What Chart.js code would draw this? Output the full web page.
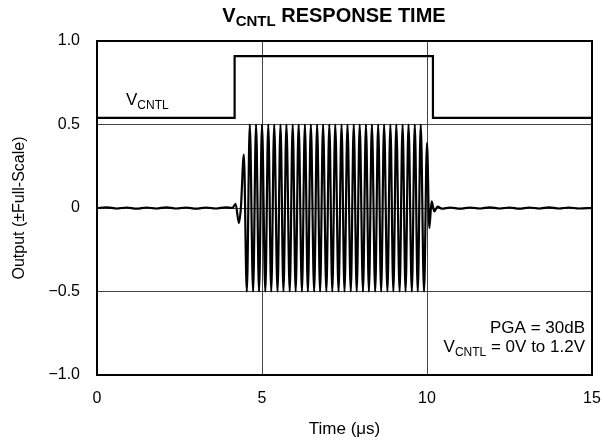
<!DOCTYPE html>
<html>
<head>
<meta charset="utf-8">
<script src="https://cdn.jsdelivr.net/npm/chart.js@4/dist/chart.umd.min.js"></script>
<style>
html,body{margin:0;padding:0;background:#fff;}
#wrap{width:603px;height:444px;position:relative;}
</style>
</head>
<body>
<div id="wrap"><canvas id="c" width="603" height="444"></canvas></div>
<script>
// ---- data ----
const xTickLabels = ['0', '5', '10', '15'];
const yTickLabels = ['\u22121.0', '\u22120.5', '0', '0.5', '1.0'];

// V_CNTL control step (time µs, output)
const vcntlTime  = [0, 4.17, 4.17, 10.18, 10.18, 15];
const vcntlValue = [0.54, 0.54, 0.91, 0.91, 0.54, 0.54];

// output signal (time µs, output ±full-scale)
const outTime = [
  0, 0.3, 0.6, 0.9, 1.2, 1.5, 1.8, 2.1, 2.4, 2.7, 3.0, 3.3, 3.6, 3.9, 4.1,
  4.20, 4.30, 4.36, 4.45,
  4.54, 4.63, 4.73, 4.82, 4.91, 5.00, 5.10, 5.19, 5.28, 5.37,
  5.47, 5.56, 5.65, 5.74, 5.84, 5.93, 6.02, 6.11, 6.21, 6.30,
  6.39, 6.48, 6.58, 6.67, 6.76, 6.85, 6.95, 7.04, 7.13, 7.22,
  7.32, 7.41, 7.50, 7.59, 7.69, 7.78, 7.87, 7.96, 8.06, 8.15,
  8.24, 8.33, 8.43, 8.52, 8.61, 8.70, 8.80, 8.89, 8.98, 9.07,
  9.17, 9.26, 9.35, 9.44, 9.54, 9.63, 9.72, 9.81, 9.91,
  10.00, 10.07, 10.14, 10.22, 10.32, 10.45,
  10.7, 11.0, 11.3, 11.6, 11.9, 12.2, 12.5, 12.8, 13.1, 13.4, 13.7, 14.0, 14.3, 14.6, 15
];
const outValue = [
  0, 0.004, -0.003, 0.003, -0.004, 0.003, -0.003, 0.004, -0.003, 0.003, -0.004, 0.003, -0.003, 0.004, 0,
  0.025, -0.09, 0.0, 0.32,
  -0.5, 0.5, -0.5, 0.5, -0.5, 0.5, -0.5, 0.5, -0.5, 0.5,
  -0.5, 0.5, -0.5, 0.5, -0.5, 0.5, -0.5, 0.5, -0.5, 0.5,
  -0.5, 0.5, -0.5, 0.5, -0.5, 0.5, -0.5, 0.5, -0.5, 0.5,
  -0.5, 0.5, -0.5, 0.5, -0.5, 0.5, -0.5, 0.5, -0.5, 0.5,
  -0.5, 0.5, -0.5, 0.5, -0.5, 0.5, -0.5, 0.5, -0.5, 0.5,
  -0.5, 0.5, -0.5, 0.5, -0.5, 0.5, -0.5, 0.5, -0.5,
  0.39, -0.12, 0.04, -0.02, 0.008, -0.004,
  0.003, -0.004, 0.003, -0.003, 0.004, -0.003, 0.003, -0.004, 0.003, -0.003, 0.004, -0.003, 0.003, -0.003, 0
];

const FONT = '"Liberation Sans", Arial, Helvetica, sans-serif';

function subText(ctx, x, y, parts, align) {
  let total = 0;
  parts.forEach(p => { ctx.font = (p.bold ? 'bold ' : '') + p.size + 'px ' + FONT; p.w = ctx.measureText(p.t).width; total += p.w; });
  let cx = align === 'right' ? x - total : (align === 'center' ? x - total / 2 : x);
  ctx.textAlign = 'left';
  ctx.textBaseline = 'alphabetic';
  parts.forEach(p => {
    ctx.font = (p.bold ? 'bold ' : '') + p.size + 'px ' + FONT;
    ctx.fillText(p.t, cx, y + (p.dy || 0));
    cx += p.w;
  });
}

const textPlugin = {
  id: 'texts',
  afterDraw(chart) {
    const ctx = chart.ctx;
    const a = chart.chartArea;
    ctx.save();
    ctx.fillStyle = '#000';
    ctx.strokeStyle = '#000';
    ctx.lineWidth = 2;
    ctx.strokeRect(a.left, a.top, a.right - a.left, a.bottom - a.top);
    // title
    subText(ctx, 334, 22, [
      {t: 'V', size: 20, bold: true},
      {t: 'CNTL', size: 15, bold: true, dy: 4},
      {t: ' RESPONSE TIME', size: 20, bold: true}
    ], 'center');
    // V_CNTL label
    subText(ctx, 126, 105, [
      {t: 'V', size: 17},
      {t: 'CNTL', size: 12, dy: 4}
    ], 'left');
    // conditions
    subText(ctx, 585, 333, [{t: 'PGA = 30dB', size: 17}], 'right');
    subText(ctx, 585, 352, [
      {t: 'V', size: 17},
      {t: 'CNTL', size: 12, dy: 4},
      {t: ' = 0V to 1.2V', size: 17}
    ], 'right');
    // axis titles
    ctx.textAlign = 'center';
    ctx.textBaseline = 'alphabetic';
    ctx.font = '17px ' + FONT;
    ctx.fillText('Time (\u03bcs)', (a.left + a.right) / 2, 434);
    ctx.font = '16px ' + FONT;
    ctx.save();
    ctx.translate(24, (a.top + a.bottom) / 2);
    ctx.rotate(-Math.PI / 2);
    ctx.fillText('Output (\u00b1Full-Scale)', 0, 0);
    ctx.restore();
    ctx.restore();
  }
};

new Chart(document.getElementById('c'), {
  type: 'line',
  data: {
    datasets: [
      {
        data: vcntlTime.map((t, i) => ({x: t, y: vcntlValue[i]})),
        borderColor: '#000', borderWidth: 2.2, pointRadius: 0, tension: 0, fill: false
      },
      {
        data: outTime.map((t, i) => ({x: t, y: outValue[i]})),
        borderColor: '#000', borderWidth: 2.2, pointRadius: 0,
        cubicInterpolationMode: 'monotone', fill: false
      }
    ]
  },
  options: {
    responsive: false,
    animation: false,
    events: [],
    layout: {padding: {left: 0, right: 11, top: 41, bottom: 0}},
    plugins: {legend: {display: false}, tooltip: {enabled: false}, title: {display: false}},
    scales: {
      x: {
        type: 'linear', min: 0, max: 15,
        afterFit: (s) => { s.height = 69; s.paddingLeft = 0; s.paddingRight = 0; },
        ticks: {
          stepSize: 5, padding: 14, color: '#000',
          font: {family: FONT, size: 16},
          callback: (v) => { const i = Math.round(v / 5); return Number.isInteger(v / 5) ? xTickLabels[i] : ''; },
          maxRotation: 0
        },
        grid: {color: '#444', lineWidth: 1, drawTicks: false},
        border: {display: false}
      },
      y: {
        type: 'linear', min: -1, max: 1,
        afterFit: (s) => { s.width = 97; s.paddingTop = 0; s.paddingBottom = 0; },
        ticks: {
          stepSize: 0.5, padding: 17, color: '#000',
          font: {family: FONT, size: 16},
          callback: (v) => { const i = Math.round((v + 1) / 0.5); return yTickLabels[i]; }
        },
        grid: {color: '#444', lineWidth: 1, drawTicks: false},
        border: {display: false}
      }
    }
  },
  plugins: [textPlugin]
});
</script>
</body>
</html>
